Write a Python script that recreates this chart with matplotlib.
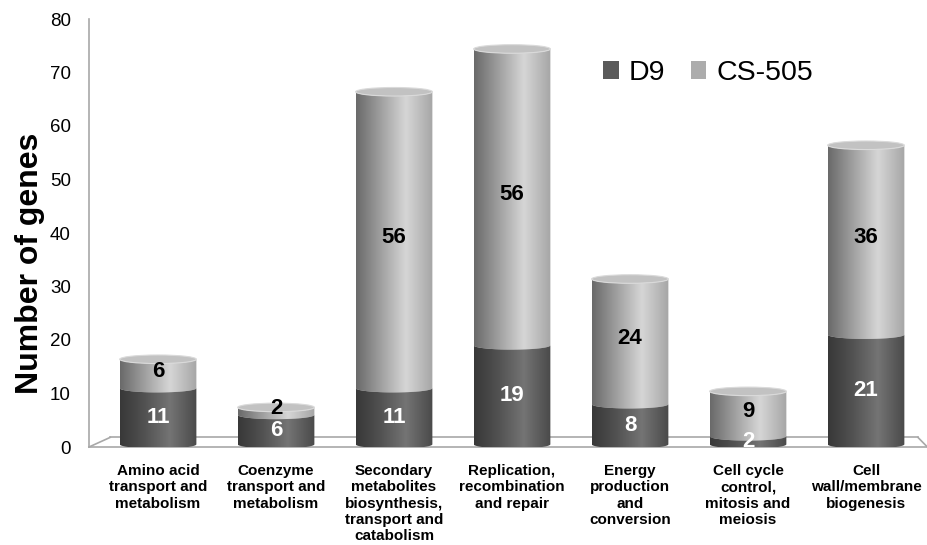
import matplotlib.pyplot as plt
import numpy as np
from matplotlib.colors import LinearSegmentedColormap
from matplotlib.patches import Ellipse, PathPatch, Patch
from matplotlib.path import Path

plt.rcParams['font.family'] = ['Liberation Sans', 'DejaVu Sans']

categories = ['Amino acid\ntransport and\nmetabolism',
              'Coenzyme\ntransport and\nmetabolism',
              'Secondary\nmetabolites\nbiosynthesis,\ntransport and\ncatabolism',
              'Replication,\nrecombination\nand repair',
              'Energy\nproduction\nand\nconversion',
              'Cell cycle\ncontrol,\nmitosis and\nmeiosis',
              'Cell\nwall/membrane\nbiogenesis']
d9 = [11, 6, 11, 19, 8, 2, 21]
cs505 = [6, 2, 56, 56, 24, 9, 36]

# gradients across the cylinder (left dark -> highlight -> right)
dark_cm = LinearSegmentedColormap.from_list('d', [(0, '#383838'), (0.3, '#505050'), (0.65, '#747474'), (1, '#4a4a4a')])
light_cm = LinearSegmentedColormap.from_list('l', [(0, '#6a6a6a'), (0.3, '#9c9c9c'), (0.65, '#d6d6d6'), (1, '#a6a6a6')])
grad = np.linspace(0, 1, 200).reshape(1, -1)

fig = plt.figure(figsize=(9.27, 5.45), dpi=100)
ax = fig.add_axes([89 / 927, 98 / 545, 836 / 927, 428 / 545])
ax.set_xlim(-0.585, 6.5)
ax.set_ylim(0, 80)

w = 0.65
eh = 1.6   # ellipse height in data units
base = 0.5


def seg_path(x, y0, y1):
    t = np.linspace(np.pi, 2 * np.pi, 40)
    bx = x + w / 2 * np.cos(t)
    by = y0 + eh / 2 * np.sin(t)
    tx = x + w / 2 * np.cos(t[::-1])
    ty = y1 + eh / 2 * np.sin(t[::-1])
    xs = np.concatenate([bx, tx, [bx[0]]])
    ys = np.concatenate([by, ty, [by[0]]])
    codes = [Path.MOVETO] + [Path.LINETO] * (len(xs) - 2) + [Path.CLOSEPOLY]
    return Path(np.column_stack([xs, ys]), codes)


# floor and wall
gc = '#a8a8a8'
x_front0, x_front1 = -0.585, 6.52
ax.plot([x_front0, x_front1], [0, 0], color=gc, lw=1.2, clip_on=False)
ax.plot([x_front0 + 0.18, x_front1 - 0.08], [1.8, 1.8], color=gc, lw=1.2, clip_on=False)
ax.plot([x_front0, x_front0 + 0.18], [0, 1.8], color=gc, lw=1.2, clip_on=False)
ax.plot([x_front1 - 0.08, x_front1], [1.8, 0], color=gc, lw=1.2, clip_on=False)
ax.plot([x_front0, x_front0], [0, 80], color=gc, lw=1.2, clip_on=False)

for i in range(len(categories)):
    top = d9[i] + cs505[i]
    segs = [(base, d9[i], dark_cm), (d9[i], top - 0.6, light_cm)]
    for (y0, y1, cm) in segs[::-1]:
        p = PathPatch(seg_path(i, y0, y1), facecolor='none', edgecolor='none')
        ax.add_patch(p)
        im = ax.imshow(grad, cmap=cm, extent=(i - w / 2, i + w / 2, y0 - eh, y1 + eh),
                       aspect='auto', zorder=2)
        im.set_clip_path(p)
    cap = Ellipse((i, top - 0.6), w, eh, facecolor='#c2c2c2', edgecolor='#dadada', lw=0.8, zorder=3)
    ax.add_patch(cap)
    ax.text(i, d9[i] / 2 + 0.1, str(d9[i]), ha='center', va='center', color='white',
            fontsize=16, fontweight='bold', zorder=4)
    ax.text(i, d9[i] + cs505[i] / 2 + 0.2, str(cs505[i]), ha='center', va='center', color='black',
            fontsize=16, fontweight='bold', zorder=4)

ax.set_xticks(range(len(categories)))
ax.set_xticklabels(categories, fontsize=11, fontweight='bold', linespacing=1.22)
ax.tick_params(axis='x', length=0, pad=12)
ax.set_yticks(range(0, 81, 10))
ax.tick_params(axis='y', length=0, labelsize=13.5, pad=13)
for s in ax.spines.values():
    s.set_visible(False)
fig.text(30 / 927, 1 - 263 / 545, 'Number of genes', rotation=90, ha='center', va='center',
         fontsize=23, fontweight='bold')

handles = [Patch(facecolor='#5a5a5a'), Patch(facecolor='#acacac')]
fig.legend(handles, ['D9', 'CS-505'], ncol=2, frameon=False, fontsize=20.5,
           handlelength=0.55, handleheight=0.55, handletextpad=0.35, columnspacing=0.9,
           loc='center', bbox_to_anchor=(708 / 927, 1 - 73 / 545))

fig.savefig('out.png', dpi=100)
